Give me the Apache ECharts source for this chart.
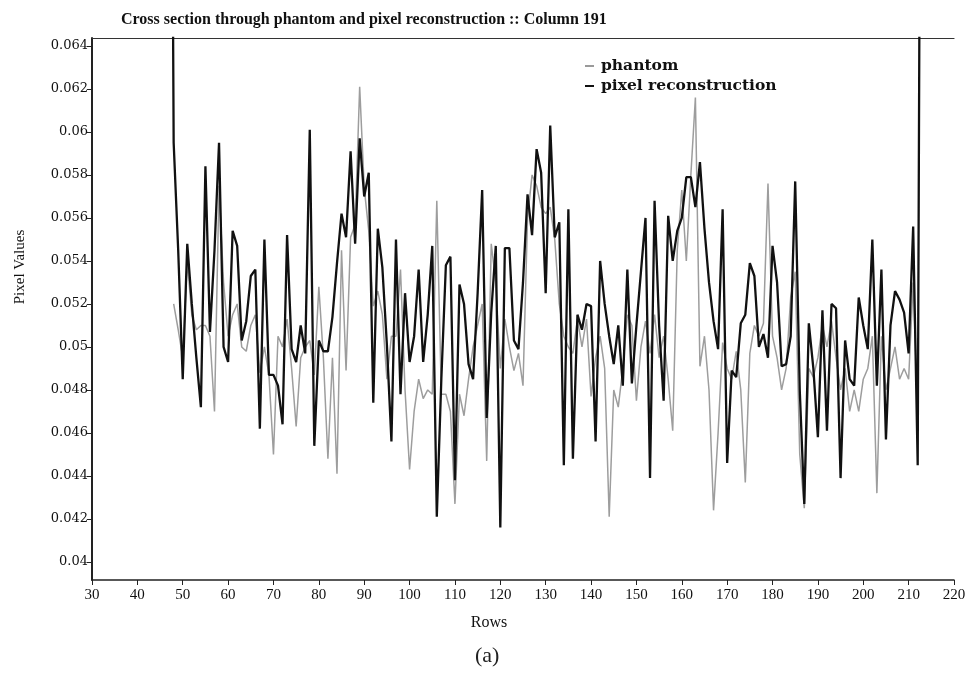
<!DOCTYPE html>
<html>
<head>
<meta charset="utf-8">
<script src="https://cdn.jsdelivr.net/npm/echarts@6/dist/echarts.min.js"></script>
<style>
html,body{margin:0;padding:0;background:#fff;}
#chart{width:976px;height:676px;}
</style>
</head>
<body>
<div id="chart"></div>
<script>
// Rows 47..213 (first and last reconstruction samples are far off-scale spikes)
const firstRow = 47;
const reconstruction = [0.1,
  0.0595,0.0545,0.0485,0.0548,0.0520,0.0495,0.0472,0.0584,0.0507,0.0545,
  0.0595,0.0500,0.0493,0.0554,0.0547,0.0503,0.0512,0.0533,0.0536,0.0462,
  0.0550,0.0487,0.0487,0.0482,0.0464,0.0552,0.0499,0.0493,0.0510,0.0497,
  0.0601,0.0454,0.0503,0.0498,0.0498,0.0514,0.0539,0.0562,0.0551,0.0591,
  0.0548,0.0597,0.0570,0.0581,0.0474,0.0555,0.0537,0.0501,0.0456,0.0550,
  0.0478,0.0525,0.0493,0.0505,0.0536,0.0493,0.0515,0.0547,0.0421,0.0485,
  0.0538,0.0542,0.0438,0.0529,0.0520,0.0492,0.0485,0.0525,0.0573,0.0467,
  0.0516,0.0547,0.0416,0.0546,0.0546,0.0503,0.0499,0.0530,0.0571,0.0552,
  0.0592,0.0581,0.0525,0.0603,0.0551,0.0558,0.0445,0.0564,0.0448,0.0515,
  0.0508,0.0520,0.0519,0.0456,0.0540,0.0520,0.0505,0.0492,0.0510,0.0482,
  0.0536,0.0483,0.0510,0.0535,0.0560,0.0439,0.0568,0.0510,0.0475,0.0561,
  0.0540,0.0554,0.0560,0.0579,0.0579,0.0565,0.0586,0.0555,0.0530,0.0512,
  0.0499,0.0564,0.0446,0.0489,0.0486,0.0511,0.0515,0.0539,0.0533,0.0500,
  0.0506,0.0495,0.0547,0.0530,0.0491,0.0492,0.0505,0.0577,0.0480,0.0427,
  0.0511,0.0490,0.0458,0.0517,0.0461,0.0520,0.0518,0.0439,0.0503,0.0485,
  0.0482,0.0523,0.0510,0.0499,0.0550,0.0482,0.0536,0.0457,0.0510,0.0526,
  0.0522,0.0516,0.0497,0.0556,0.0445,
  0.1];
const phantom = [null,
  0.0520,0.0508,0.0495,0.0540,0.0515,0.0508,0.0510,0.0510,0.0505,0.0470,
  0.0575,0.0530,0.0505,0.0515,0.0520,0.0500,0.0498,0.0510,0.0515,0.0488,
  0.0500,0.0487,0.0450,0.0505,0.0500,0.0513,0.0490,0.0463,0.0495,0.0500,
  0.0503,0.0487,0.0528,0.0495,0.0448,0.0495,0.0441,0.0545,0.0489,0.0551,
  0.0557,0.0621,0.0574,0.0554,0.0519,0.0526,0.0515,0.0485,0.0505,0.0505,
  0.0536,0.0480,0.0443,0.0470,0.0485,0.0476,0.0480,0.0478,0.0568,0.0478,
  0.0478,0.0470,0.0427,0.0478,0.0468,0.0485,0.0500,0.0510,0.0520,0.0447,
  0.0548,0.0530,0.0490,0.0513,0.0500,0.0489,0.0497,0.0482,0.0560,0.0580,
  0.0575,0.0565,0.0562,0.0565,0.0550,0.0520,0.0505,0.0500,0.0497,0.0513,
  0.0500,0.0513,0.0477,0.0495,0.0505,0.0490,0.0421,0.0480,0.0472,0.0490,
  0.0515,0.0510,0.0475,0.0500,0.0512,0.0497,0.0515,0.0495,0.0505,0.0485,
  0.0461,0.0545,0.0573,0.0540,0.0580,0.0616,0.0491,0.0505,0.0480,0.0424,
  0.0460,0.0502,0.0490,0.0485,0.0498,0.0480,0.0437,0.0497,0.0510,0.0505,
  0.0511,0.0576,0.0505,0.0495,0.0480,0.0490,0.0523,0.0535,0.0450,0.0425,
  0.0490,0.0486,0.0495,0.0510,0.0500,0.0512,0.0495,0.0480,0.0490,0.0470,
  0.0480,0.0470,0.0485,0.0490,0.0505,0.0432,0.0505,0.0480,0.0490,0.0500,
  0.0485,0.0490,0.0485,0.0530,0.0470,
  null];
const yTicks = [0.04,0.042,0.044,0.046,0.048,0.05,0.052,0.054,0.056,0.058,0.06,0.062,0.064];
const yTickLabels = ['0.04','0.042','0.044','0.046','0.048','0.05','0.052','0.054','0.056','0.058','0.06','0.062','0.064'];

const pairs = arr => arr.map((v, i) => [firstRow + i, v]);
const serif = 'Liberation Serif';
const wideSerif = 'DejaVu Serif';

const chart = echarts.init(document.getElementById('chart'), null, {renderer: 'canvas'});
chart.setOption({
  backgroundColor: '#ffffff',
  animation: false,
  title: [
    {text: 'Cross section through phantom and pixel reconstruction :: Column 191',
     left: 116, top: 7,
     textStyle: {fontFamily: serif, fontSize: 16, fontWeight: 'bold', color: '#111'}},
    {text: '(a)', left: 470, top: 640,
     textStyle: {fontFamily: serif, fontSize: 22, fontWeight: 'normal', color: '#222'}}
  ],
  legend: {
    orient: 'vertical', left: 580, top: 53, itemGap: 4,
    itemWidth: 9, itemHeight: 2,
    textStyle: {fontFamily: wideSerif, fontSize: 15.5, fontWeight: 'bold', color: '#111', padding: [0,0,0,2]},
    data: [
      {name: 'phantom', icon: 'rect', itemStyle: {color: '#9a9a9a'}},
      {name: 'pixel reconstruction', icon: 'rect', itemStyle: {color: '#111'}}
    ]
  },
  grid: {left: 92, right: 22, top: 38, bottom: 96},
  xAxis: [{
    type: 'value', min: 30, max: 220, interval: 10,
    name: 'Rows', nameLocation: 'middle', nameGap: 35,
    nameTextStyle: {fontFamily: serif, fontSize: 16, color: '#111', padding: [0, 68, 0, 0]},
    axisLine: {show: true, lineStyle: {color: '#222', width: 1.5}},
    axisTick: {show: true, length: 5, lineStyle: {color: '#222'}},
    axisLabel: {fontFamily: serif, fontSize: 15, color: '#111', margin: 8},
    splitLine: {show: false}
  }, {
    type: 'value', min: 30, max: 220, position: 'top',
    axisLine: {show: true, lineStyle: {color: '#333', width: 1.2}},
    axisTick: {show: false}, axisLabel: {show: false}, splitLine: {show: false}
  }],
  yAxis: {
    type: 'value', min: 0.03916, max: 0.06437,
    name: 'Pixel Values', nameLocation: 'middle', nameGap: 64, nameRotate: 90,
    nameTextStyle: {fontFamily: serif, fontSize: 15, color: '#111', padding: [0, 0, 0, 84]},
    axisLine: {show: true, lineStyle: {color: '#222', width: 2}},
    axisTick: {show: true, length: 5, customValues: yTicks, lineStyle: {color: '#222'}},
    axisLabel: {fontFamily: wideSerif, fontSize: 13, color: '#111', margin: 4,
      customValues: yTicks,
      formatter: v => { const k = yTicks.findIndex(t => Math.abs(t - v) < 1e-7); return k >= 0 ? yTickLabels[k] : ''; }},
    splitLine: {show: false}
  },
  series: [
    {name: 'phantom', type: 'line', data: pairs(phantom), showSymbol: false, symbol: 'none',
     connectNulls: false, clip: true,
     lineStyle: {color: '#9d9d9d', width: 1.5}, itemStyle: {color: '#9d9d9d'}, z: 2},
    {name: 'pixel reconstruction', type: 'line', data: pairs(reconstruction), showSymbol: false, symbol: 'none',
     clip: true,
     lineStyle: {color: '#111', width: 2.3}, itemStyle: {color: '#111'}, z: 3}
  ]
});
</script>
</body>
</html>
